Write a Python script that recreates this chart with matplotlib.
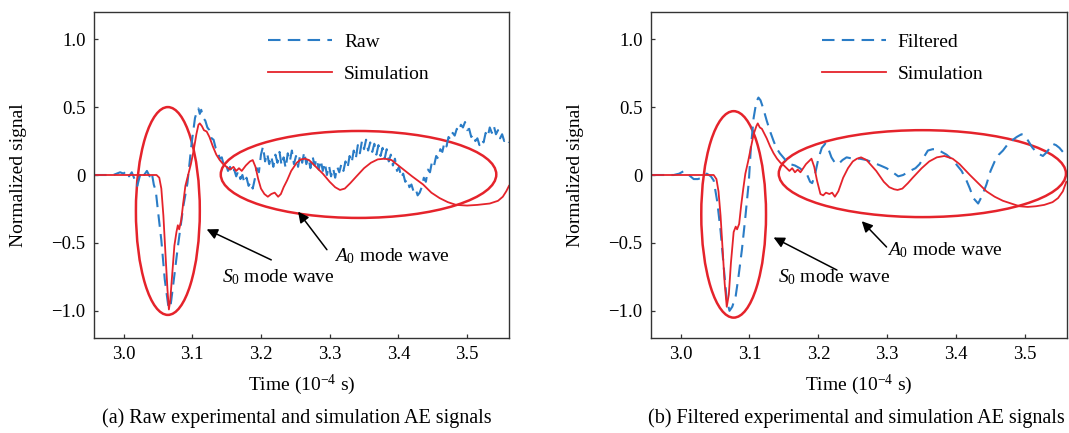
import numpy as np
import matplotlib
matplotlib.use('AGG')
import matplotlib.pyplot as plt
from matplotlib.patches import Ellipse

plt.rcParams['font.family'] = ['Liberation Serif', 'DejaVu Serif']
plt.rcParams['mathtext.fontset'] = 'custom'
plt.rcParams['mathtext.rm'] = 'Liberation Serif'
plt.rcParams['mathtext.it'] = 'Liberation Serif:italic'

BLUE = '#2a7cc6'
RED = '#e5232b'

# ---- data: (time in 1e-4 s, normalized signal) ----
raw_a = [
    (2.957, 0), (2.970, 0), (2.985, 0), (2.995, 0.02), (3.000, 0.01), (3.004, 0.03),
    (3.008, -0.01), (3.012, 0.02), (3.016, -0.03), (3.020, -0.08), (3.023, -0.02),
    (3.026, 0.03), (3.030, 0.0), (3.034, 0.03), (3.038, -0.01), (3.041, 0.02),
    (3.044, -0.07), (3.047, -0.12), (3.050, -0.26), (3.055, -0.48), (3.060, -0.77),
    (3.065, -0.96), (3.068, -0.98), (3.072, -0.82), (3.079, -0.53), (3.087, -0.23),
    (3.093, -0.06), (3.099, 0.23), (3.104, 0.42), (3.107, 0.47), (3.109, 0.49),
    (3.111, 0.45), (3.113, 0.48), (3.116, 0.42), (3.119, 0.40), (3.122, 0.35),
    (3.125, 0.33), (3.128, 0.27), (3.131, 0.26), (3.134, 0.20), (3.137, 0.18),
    (3.140, 0.12), (3.143, 0.13), (3.146, 0.07), (3.149, 0.08), (3.152, 0.03),
    (3.155, 0.06), (3.158, 0.01), (3.161, 0.04), (3.164, -0.01), (3.167, 0.03),
    (3.170, -0.03), (3.173, 0.0), (3.176, -0.06), (3.179, -0.02), (3.182, -0.08),
    (3.185, -0.05), (3.188, -0.10), (3.191, -0.03), (3.194, 0.05), (3.197, 0.02),
    (3.200, 0.15), (3.203, 0.21), (3.206, 0.10), (3.209, 0.16), (3.212, 0.08),
    (3.215, 0.14), (3.218, 0.06), (3.221, 0.15), (3.224, 0.09), (3.227, 0.17),
    (3.230, 0.07), (3.233, 0.13), (3.236, 0.05), (3.239, 0.16), (3.242, 0.10),
    (3.245, 0.18), (3.248, 0.08), (3.251, 0.14), (3.254, 0.06), (3.257, 0.15),
    (3.260, 0.09), (3.263, 0.17), (3.266, 0.08), (3.269, 0.13), (3.272, 0.05),
    (3.275, 0.14), (3.278, 0.07), (3.281, 0.12), (3.284, 0.04), (3.287, 0.11),
    (3.290, 0.03), (3.293, 0.09), (3.296, 0.00), (3.299, 0.07), (3.302, -0.01),
    (3.305, 0.05), (3.308, -0.02), (3.311, 0.06), (3.314, 0.02), (3.317, 0.08),
    (3.320, 0.03), (3.323, 0.10), (3.326, 0.05), (3.329, 0.14), (3.332, 0.09),
    (3.335, 0.18), (3.338, 0.12), (3.341, 0.22), (3.344, 0.16), (3.347, 0.25),
    (3.350, 0.19), (3.353, 0.26), (3.356, 0.18), (3.359, 0.24), (3.362, 0.17),
    (3.365, 0.23), (3.368, 0.15), (3.371, 0.22), (3.374, 0.14), (3.377, 0.20),
    (3.380, 0.12), (3.383, 0.19), (3.386, 0.10), (3.389, 0.15), (3.392, 0.07),
    (3.395, 0.12), (3.398, 0.03), (3.401, 0.06), (3.404, -0.02), (3.407, 0.01),
    (3.410, -0.05), (3.413, -0.03), (3.416, -0.09), (3.419, -0.07), (3.422, -0.12),
    (3.425, -0.10), (3.428, -0.15), (3.431, -0.13), (3.434, -0.09), (3.437, -0.02),
    (3.440, -0.05), (3.443, 0.04), (3.446, 0.02), (3.449, 0.10), (3.452, 0.07),
    (3.455, 0.14), (3.458, 0.12), (3.461, 0.19), (3.464, 0.17), (3.467, 0.24),
    (3.470, 0.21), (3.473, 0.28), (3.476, 0.26), (3.479, 0.31), (3.482, 0.29),
    (3.485, 0.34), (3.488, 0.32), (3.491, 0.37), (3.494, 0.35), (3.497, 0.39),
    (3.500, 0.33), (3.503, 0.34), (3.506, 0.28), (3.509, 0.30), (3.512, 0.25),
    (3.515, 0.27), (3.518, 0.22), (3.521, 0.26), (3.524, 0.24), (3.527, 0.31),
    (3.530, 0.28), (3.533, 0.35), (3.536, 0.31), (3.539, 0.36), (3.542, 0.30),
    (3.545, 0.33), (3.548, 0.27), (3.551, 0.30), (3.554, 0.25), (3.557, 0.27),
    (3.561, 0.24),
]

sim_a = [
    (2.957, 0), (3.040, 0), (3.048, 0.0), (3.052, -0.02), (3.055, -0.10), (3.058, -0.30),
    (3.061, -0.58), (3.064, -0.85), (3.066, -0.99), (3.068, -0.92), (3.071, -0.72),
    (3.074, -0.52), (3.077, -0.42), (3.079, -0.37), (3.081, -0.40), (3.084, -0.33),
    (3.087, -0.20), (3.090, -0.08), (3.094, 0.0), (3.098, 0.08), (3.102, 0.18),
    (3.106, 0.30), (3.109, 0.37), (3.111, 0.38), (3.114, 0.36), (3.117, 0.33),
    (3.121, 0.32), (3.125, 0.28), (3.130, 0.21), (3.135, 0.15), (3.140, 0.11),
    (3.145, 0.08), (3.150, 0.06), (3.155, 0.04), (3.160, 0.06), (3.164, 0.03),
    (3.168, 0.05), (3.172, 0.03), (3.178, 0.07), (3.184, 0.10), (3.188, 0.11),
    (3.192, 0.06), (3.196, -0.03), (3.200, -0.10), (3.205, -0.14), (3.210, -0.16),
    (3.215, -0.14), (3.220, -0.13), (3.225, -0.16), (3.229, -0.14), (3.233, -0.09),
    (3.238, -0.04), (3.244, 0.03), (3.252, 0.09), (3.258, 0.115), (3.264, 0.12),
    (3.270, 0.11), (3.278, 0.07), (3.290, 0.01), (3.300, -0.05), (3.308, -0.09),
    (3.315, -0.11), (3.322, -0.10), (3.330, -0.06), (3.339, -0.01), (3.350, 0.05),
    (3.360, 0.09), (3.370, 0.115), (3.380, 0.12), (3.390, 0.11), (3.400, 0.07),
    (3.410, 0.03), (3.420, -0.01), (3.436, -0.07), (3.448, -0.13), (3.460, -0.17),
    (3.472, -0.20), (3.484, -0.22), (3.500, -0.225), (3.515, -0.22), (3.533, -0.21),
    (3.545, -0.19), (3.552, -0.16), (3.557, -0.12), (3.561, -0.08),
]

filt_b = [
    (2.958, 0), (2.990, 0), (2.998, 0.01), (3.005, 0.03), (3.012, 0.0), (3.019, -0.03),
    (3.025, -0.03), (3.031, -0.02), (3.038, 0.01), (3.044, -0.01), (3.048, -0.04),
    (3.053, -0.19), (3.058, -0.41), (3.063, -0.70), (3.067, -0.92), (3.071, -1.0),
    (3.075, -0.97), (3.080, -0.89), (3.084, -0.75), (3.089, -0.55), (3.094, -0.31),
    (3.099, -0.05), (3.102, 0.20), (3.106, 0.42), (3.110, 0.54), (3.113, 0.57),
    (3.116, 0.55), (3.120, 0.49), (3.125, 0.40), (3.130, 0.32), (3.135, 0.25),
    (3.139, 0.20), (3.144, 0.16), (3.149, 0.13), (3.154, 0.10), (3.159, 0.08),
    (3.166, 0.07), (3.173, 0.05), (3.178, 0.03), (3.183, 0.01), (3.188, -0.05),
    (3.191, -0.06), (3.195, 0.0), (3.200, 0.12), (3.205, 0.20), (3.210, 0.23),
    (3.214, 0.20), (3.219, 0.13), (3.224, 0.09), (3.229, 0.08), (3.235, 0.11),
    (3.241, 0.13), (3.250, 0.12), (3.260, 0.12), (3.270, 0.11), (3.280, 0.09),
    (3.290, 0.07), (3.299, 0.05), (3.308, 0.02), (3.316, -0.01), (3.323, 0.0),
    (3.333, 0.03), (3.341, 0.05), (3.347, 0.08), (3.353, 0.13), (3.359, 0.18),
    (3.366, 0.19), (3.372, 0.19), (3.379, 0.17), (3.386, 0.15), (3.393, 0.12),
    (3.400, 0.08), (3.408, 0.03), (3.415, -0.04), (3.420, -0.10), (3.425, -0.17),
    (3.432, -0.21), (3.438, -0.15), (3.444, -0.07), (3.450, 0.03), (3.456, 0.10),
    (3.462, 0.15), (3.468, 0.18), (3.474, 0.22), (3.480, 0.25), (3.488, 0.28),
    (3.495, 0.30), (3.500, 0.29), (3.506, 0.24), (3.511, 0.20), (3.518, 0.16),
    (3.526, 0.14), (3.532, 0.17), (3.540, 0.23), (3.545, 0.22), (3.550, 0.20),
    (3.555, 0.17), (3.560, 0.15),
]

sim_b = [
    (2.958, 0), (3.040, 0), (3.048, 0.0), (3.052, -0.03), (3.055, -0.12), (3.058, -0.30),
    (3.061, -0.55), (3.064, -0.80), (3.067, -0.97), (3.070, -0.88), (3.073, -0.65),
    (3.077, -0.42), (3.080, -0.38), (3.082, -0.40), (3.085, -0.36), (3.088, -0.22),
    (3.091, -0.10), (3.094, 0.01), (3.098, 0.10), (3.102, 0.20), (3.106, 0.30),
    (3.110, 0.36), (3.112, 0.38), (3.115, 0.35), (3.118, 0.34), (3.122, 0.30),
    (3.125, 0.27), (3.130, 0.21), (3.135, 0.16), (3.140, 0.12), (3.145, 0.09),
    (3.150, 0.07), (3.154, 0.05), (3.158, 0.03), (3.162, 0.05), (3.166, 0.02),
    (3.170, 0.04), (3.174, 0.02), (3.178, 0.05), (3.182, 0.08), (3.186, 0.10),
    (3.190, 0.12), (3.194, 0.06), (3.198, -0.04), (3.203, -0.14), (3.207, -0.15),
    (3.211, -0.13), (3.216, -0.14), (3.220, -0.13), (3.224, -0.16), (3.229, -0.12),
    (3.236, -0.02), (3.243, 0.05), (3.250, 0.10), (3.256, 0.12), (3.262, 0.13),
    (3.270, 0.11), (3.284, 0.03), (3.295, -0.05), (3.303, -0.09), (3.310, -0.105),
    (3.315, -0.11), (3.322, -0.10), (3.330, -0.06), (3.337, -0.02), (3.350, 0.05),
    (3.361, 0.10), (3.372, 0.13), (3.383, 0.14), (3.395, 0.12), (3.405, 0.08),
    (3.420, 0.00), (3.432, -0.06), (3.444, -0.12), (3.456, -0.16), (3.468, -0.19),
    (3.480, -0.21), (3.492, -0.23), (3.504, -0.235), (3.516, -0.23), (3.528, -0.22),
    (3.540, -0.20), (3.548, -0.17), (3.555, -0.12), (3.560, -0.05),
]

# mode-wave ellipses: (centre t, centre v, width, height)
ell_a = [(3.0645, -0.265, 0.093, 1.53), (3.342, 0.004, 0.401, 0.64)]
ell_b = [(3.077, -0.29, 0.094, 1.52), (3.351, 0.01, 0.417, 0.64)]

# annotations: (text, arrow head, text anchor, arrow tail)
ann_a = [('$S_0$ mode wave', (3.121, -0.40), (3.143, -0.75), (3.215, -0.625)),
         ('$A_0$ mode wave', (3.254, -0.27), (3.307, -0.60), (3.296, -0.55))]
ann_b = [('$S_0$ mode wave', (3.135, -0.46), (3.142, -0.75), (3.227, -0.70)),
         ('$A_0$ mode wave', (3.263, -0.34), (3.299, -0.555), (3.299, -0.53))]

xticks = [3.0, 3.1, 3.2, 3.3, 3.4, 3.5]
xtick_labels = ['3.0', '3.1', '3.2', '3.3', '3.4', '3.5']
yticks = [-1.0, -0.5, 0, 0.5, 1.0]
ytick_labels = ['\u22121.0', '\u22120.5', '0', '0.5', '1.0']

fig = plt.figure(figsize=(10.69, 4.33), dpi=100)
ax_a = fig.add_axes([94 / 1069, 1 - 338 / 433, 415 / 1069, 326 / 433])
ax_b = fig.add_axes([651 / 1069, 1 - 338 / 433, 416 / 1069, 326 / 433])


def draw_panel(ax, exp, sim, exp_label, ellipses, notes, caption, leg_x, cap_x):
    e = np.array(exp).T
    s = np.array(sim).T
    ax.plot(e[0], e[1], color=BLUE, lw=1.5, dashes=(6, 3.5), label=exp_label)
    ax.plot(s[0], s[1], color=RED, lw=1.3, label='Simulation')
    for xc, yc, w, h in ellipses:
        ax.add_patch(Ellipse((xc, yc), w, h, fill=False, ec=RED, lw=1.8))
    for txt, head, pos, tail in notes:
        ax.annotate('', xy=head, xytext=tail,
                    arrowprops=dict(arrowstyle='-|>', color='black', lw=1.1,
                                    mutation_scale=16, shrinkA=0, shrinkB=0))
        ax.text(pos[0], pos[1], txt, fontsize=14, ha='left', va='center')
    ax.set_xlim(2.957, 3.561)
    ax.set_ylim(-1.2, 1.2)
    ax.set_xticks(xticks)
    ax.set_xticklabels(xtick_labels)
    ax.set_yticks(yticks)
    ax.set_yticklabels(ytick_labels)
    ax.tick_params(direction='in', length=3, width=0.9, labelsize=13.5, pad=6,
                   colors='#333333', labelcolor='black')
    for sp in ax.spines.values():
        sp.set_color('#333333')
        sp.set_linewidth(1.0)
    ax.set_xlabel('Time (10$^{\u22124}$ s)', fontsize=14, labelpad=7)
    ax.set_ylabel('Normalized signal', fontsize=14, labelpad=18)
    ax.legend(loc='upper left', bbox_to_anchor=(leg_x, 0.935), frameon=False,
              fontsize=14, handlelength=3.3, handletextpad=0.6, labelspacing=0.75,
              borderaxespad=0, borderpad=0)
    fig.text(cap_x, 1 - 418 / 433, caption, fontsize=14.5, ha='center', va='center')


draw_panel(ax_a, raw_a, sim_a, 'Raw', ell_a, ann_a,
           '(a) Raw experimental and simulation AE signals', 0.42, 297 / 1069)
draw_panel(ax_b, filt_b, sim_b, 'Filtered', ell_b, ann_b,
           '(b) Filtered experimental and simulation AE signals', 0.41, 856 / 1069)

fig.savefig('out.png', dpi=100)
